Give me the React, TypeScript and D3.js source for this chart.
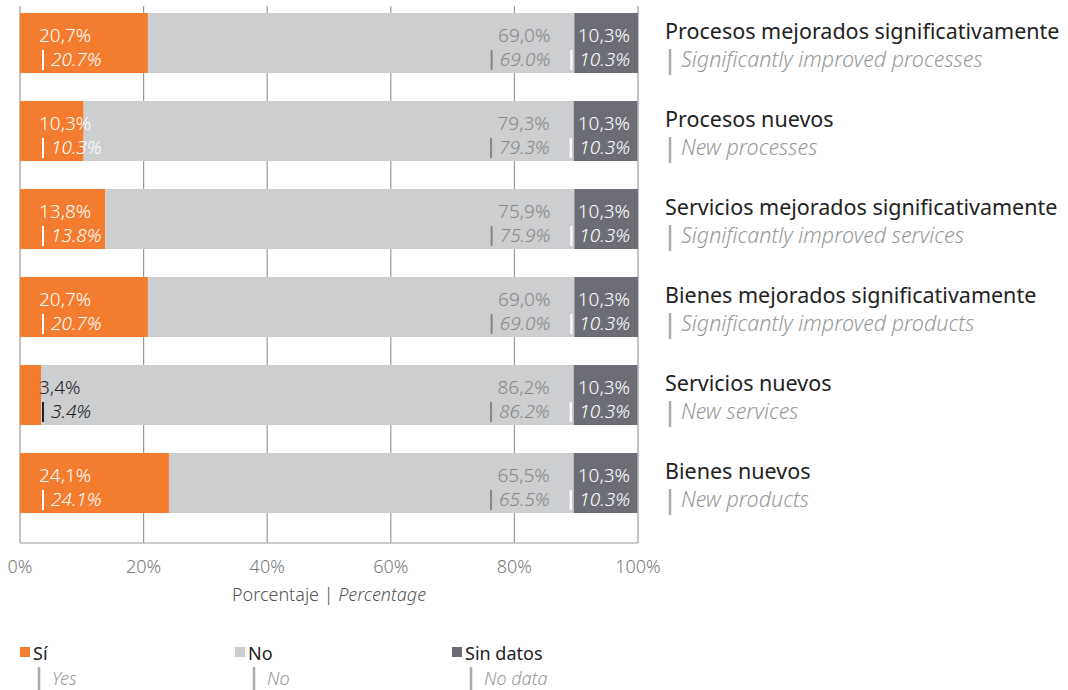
import * as d3 from 'd3'
import { useEffect, useRef } from 'react'

// category labels, top to bottom
const categoriesEs = [
    'Procesos mejorados significativamente',
    'Procesos nuevos',
    'Servicios mejorados significativamente',
    'Bienes mejorados significativamente',
    'Servicios nuevos',
    'Bienes nuevos',
]
const categoriesEn = [
    'Significantly improved processes',
    'New processes',
    'Significantly improved services',
    'Significantly improved products',
    'New services',
    'New products',
]

// series values (%)
const si = [20.7, 10.3, 13.8, 20.7, 3.4, 24.1]
const no = [69.0, 79.3, 75.9, 69.0, 86.2, 65.5]
const sinDatos = [10.3, 10.3, 10.3, 10.3, 10.3, 10.3]

const ticks = [0, 20, 40, 60, 80, 100]

const seriesEs = ['Sí', 'No', 'Sin datos']
const seriesEn = ['Yes', 'No', 'No data']
const colors = ['#f47c2e', '#cdced0', '#6d6d75']

const FONT = "'Noto Sans', sans-serif"

export default function App() {
    const svgRef = useRef<SVGSVGElement>(null)
    const width = 1068
    const height = 690

    useEffect(() => {
        if (!svgRef.current) return
        const svg = d3.select(svgRef.current)
        svg.selectAll('*').remove()

        const x = d3.scaleLinear().domain([0, 100]).range([20, 638])
        const y = d3
            .scaleBand<number>()
            .domain(d3.range(categoriesEs.length))
            .range([13, 513])
            .paddingInner(28 / 88)
            .paddingOuter(0)
        const bh = y.bandwidth()
        const axisY = 543

        // gridlines
        svg.append('g')
            .selectAll('line')
            .data(ticks)
            .join('line')
            .attr('x1', (d) => x(d))
            .attr('x2', (d) => x(d))
            .attr('y1', 6)
            .attr('y2', axisY)
            .attr('stroke', '#9a9a9a')
            .attr('stroke-width', 1.2)

        // axis baseline
        svg.append('line')
            .attr('x1', x(0))
            .attr('x2', x(100))
            .attr('y1', axisY)
            .attr('y2', axisY)
            .attr('stroke', '#9a9a9a')
            .attr('stroke-width', 1.2)

        // tick labels
        svg.append('g')
            .selectAll('text')
            .data(ticks)
            .join('text')
            .attr('x', (d) => x(d))
            .attr('y', 573)
            .attr('text-anchor', 'middle')
            .attr('font-family', FONT)
            .attr('font-weight', 300)
            .attr('font-size', 18)
            .attr('fill', '#7a7a7a')
            .text((d) => `${d}%`)

        const title = svg
            .append('text')
            .attr('x', x(50))
            .attr('y', 601)
            .attr('text-anchor', 'middle')
            .attr('font-family', FONT)
            .attr('font-weight', 300)
            .attr('font-size', 18)
            .attr('fill', '#555')
        title.append('tspan').text('Porcentaje | ')
        title.append('tspan').attr('font-style', 'italic').text('Percentage')

        const es = (v: number) => v.toFixed(1).replace('.', ',') + '%'
        const en = (v: number) => v.toFixed(1) + '%'

        categoriesEs.forEach((cat, i) => {
            const y0 = y(i) as number
            const vals = [si[i], no[i], sinDatos[i]]
            let acc = 0
            const starts = vals.map((v) => {
                const s = acc
                acc += v
                return s
            })
            const g = svg.append('g')
            vals.forEach((v, k) => {
                g.append('rect')
                    .attr('x', x(starts[k]))
                    .attr('y', y0)
                    .attr('width', x(starts[k] + v) - x(starts[k]))
                    .attr('height', bh)
                    .attr('fill', colors[k])
            })

            const l1 = y0 + 29
            const l2 = y0 + 53
            const fs = 19

            // Sí labels (left aligned)
            const siColor = x(si[i]) - x(0) < 40 ? '#222' : '#fff'
            g.append('text')
                .attr('x', 39)
                .attr('y', l1)
                .attr('font-family', FONT)
                .attr('font-weight', 300)
                .attr('font-size', fs)
                .attr('fill', siColor)
                .text(es(si[i]))
            g.append('line')
                .attr('x1', 43)
                .attr('x2', 43)
                .attr('y1', l2 - 16)
                .attr('y2', l2 + 4)
                .attr('stroke', siColor)
                .attr('stroke-width', 2)
            g.append('text')
                .attr('x', 51)
                .attr('y', l2)
                .attr('font-family', FONT)
                .attr('font-weight', 300)
                .attr('font-style', 'italic')
                .attr('font-size', fs)
                .attr('fill', siColor)
                .text(en(si[i]))

            // No labels (right aligned before Sin datos)
            const noRight = x(starts[2]) - 24
            g.append('text')
                .attr('x', noRight)
                .attr('y', l1)
                .attr('text-anchor', 'end')
                .attr('font-family', FONT)
                .attr('font-weight', 300)
                .attr('font-size', fs)
                .attr('fill', '#888')
                .text(es(no[i]))
            const noTxt = g
                .append('text')
                .attr('x', noRight)
                .attr('y', l2)
                .attr('text-anchor', 'end')
                .attr('font-family', FONT)
                .attr('font-weight', 300)
                .attr('font-style', 'italic')
                .attr('font-size', fs)
                .attr('fill', '#888')
                .text(en(no[i]))
            const noW = (noTxt.node() as SVGTextElement).getComputedTextLength()
            g.append('line')
                .attr('x1', noRight - noW - 8)
                .attr('x2', noRight - noW - 8)
                .attr('y1', l2 - 16)
                .attr('y2', l2 + 4)
                .attr('stroke', '#888')
                .attr('stroke-width', 2)

            // Sin datos labels
            const sdRight = x(100) - 8
            g.append('text')
                .attr('x', sdRight)
                .attr('y', l1)
                .attr('text-anchor', 'end')
                .attr('font-family', FONT)
                .attr('font-weight', 300)
                .attr('font-size', fs)
                .attr('fill', '#fff')
                .text(es(sinDatos[i]))
            g.append('text')
                .attr('x', sdRight)
                .attr('y', l2)
                .attr('text-anchor', 'end')
                .attr('font-family', FONT)
                .attr('font-weight', 300)
                .attr('font-style', 'italic')
                .attr('font-size', fs)
                .attr('fill', '#fff')
                .text(en(sinDatos[i]))
            g.append('line')
                .attr('x1', x(starts[2]) - 3)
                .attr('x2', x(starts[2]) - 3)
                .attr('y1', l2 - 16)
                .attr('y2', l2 + 4)
                .attr('stroke', '#fff')
                .attr('stroke-width', 2)

            // category labels on the right
            g.append('text')
                .attr('x', 665)
                .attr('y', y0 + 26)
                .attr('font-family', FONT)
                .attr('font-size', 21.5)
                .attr('fill', '#222')
                .text(cat)
            g.append('line')
                .attr('x1', 670)
                .attr('x2', 670)
                .attr('y1', y0 + 36)
                .attr('y2', y0 + 62)
                .attr('stroke', '#aaa')
                .attr('stroke-width', 2.5)
            g.append('text')
                .attr('x', 681)
                .attr('y', y0 + 54)
                .attr('font-family', FONT)
                .attr('font-weight', 300)
                .attr('font-style', 'italic')
                .attr('font-size', 21.5)
                .attr('fill', '#999')
                .text(categoriesEn[i])
        })

        // legend
        const legendX = [20, 235, 452]
        seriesEs.forEach((name, k) => {
            const lg = svg.append('g').attr('transform', `translate(${legendX[k]},0)`)
            lg.append('rect')
                .attr('x', 0)
                .attr('y', 647)
                .attr('width', 10)
                .attr('height', 10)
                .attr('fill', colors[k])
            lg.append('text')
                .attr('x', 13)
                .attr('y', 660)
                .attr('font-family', FONT)
                .attr('font-size', 18)
                .attr('fill', '#222')
                .text(name)
            lg.append('line')
                .attr('x1', 19)
                .attr('x2', 19)
                .attr('y1', 667)
                .attr('y2', 690)
                .attr('stroke', '#aaa')
                .attr('stroke-width', 2.5)
            lg.append('text')
                .attr('x', 32)
                .attr('y', 685)
                .attr('font-family', FONT)
                .attr('font-weight', 300)
                .attr('font-style', 'italic')
                .attr('font-size', 18)
                .attr('fill', '#999')
                .text(seriesEn[k])
        })
    }, [])

    return (
        <svg
            ref={svgRef}
            width={width}
            height={height}
            style={{ position: 'absolute', left: 0, top: 0, background: '#fff' }}
        />
    )
}
